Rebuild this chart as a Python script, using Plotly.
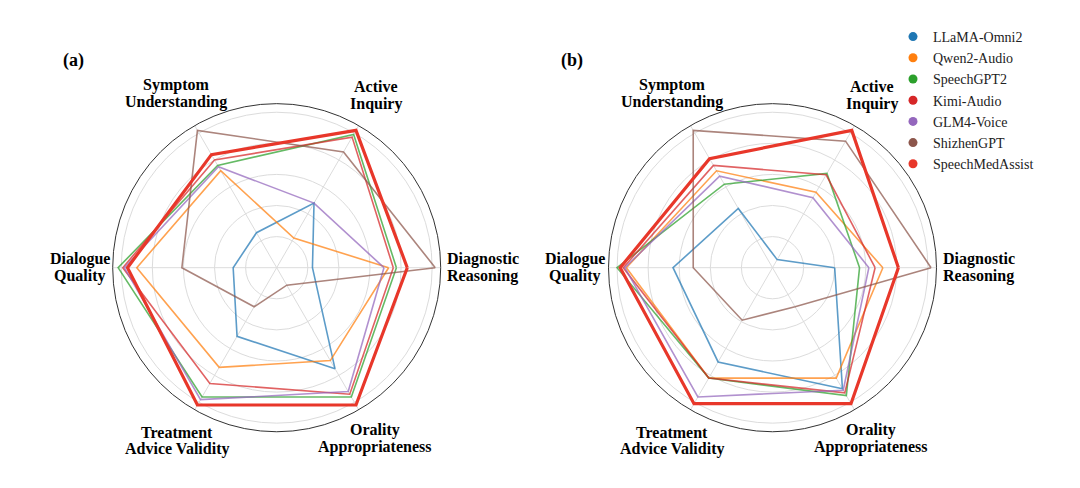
import numpy as np
import plotly.graph_objects as go

# axis (dimension) names, each as two text lines
cat_line1 = ["Diagnostic", "Active", "Symptom", "Dialogue", "Treatment", "Orality"]
cat_line2 = ["Reasoning", "Inquiry", "Understanding", "Quality", "Advice Validity", "Appropriateness"]
categories = [a + " " + b for a, b in zip(cat_line1, cat_line2)]

models = ["LLaMA-Omni2", "Qwen2-Audio", "SpeechGPT2", "Kimi-Audio", "GLM4-Voice", "ShizhenGPT", "SpeechMedAssist"]
colors = ["#1f77b4", "#ff7f0e", "#2ca02c", "#d62728", "#9467bd", "#8c564b", "#e8372a"]

# (a) normalized scores per dimension (order = categories)
a_llama = [0.23, 0.48, 0.26, 0.28, 0.51, 0.75]
a_qwen = [0.72, 0.22, 0.72, 0.90, 0.74, 0.69]
a_sgpt = [0.77, 0.99, 0.76, 1.02, 0.96, 0.96]
a_kimi = [0.75, 0.97, 0.80, 0.99, 0.86, 0.94]
a_glm = [0.69, 0.48, 0.75, 0.98, 0.98, 0.92]
a_shiz = [1.02, 0.86, 1.02, 0.61, 0.29, 0.13]
a_sma = [0.84, 1.02, 0.84, 0.96, 1.02, 1.02]

# (b) normalized scores per dimension
b_llama = [0.40, 0.06, 0.44, 0.64, 0.70, 0.90]
b_qwen = [0.71, 0.56, 0.72, 0.94, 0.82, 0.82]
b_sgpt = [0.56, 0.70, 0.62, 1.00, 0.82, 0.95]
b_kimi = [0.66, 0.69, 0.76, 0.96, 0.82, 0.93]
b_glm = [0.62, 0.52, 0.68, 0.95, 0.96, 0.91]
b_shiz = [1.02, 0.94, 1.02, 0.51, 0.39, 0.29]
b_sma = [0.81, 1.02, 0.81, 0.98, 1.01, 1.01]

data_a = [a_llama, a_qwen, a_sgpt, a_kimi, a_glm, a_shiz, a_sma]
data_b = [b_llama, b_qwen, b_sgpt, b_kimi, b_glm, b_shiz, b_sma]

FONT = "Liberation Serif"
W, H = 1080, 488
OFF = 8  # page body margin in the browser


def px(x):
    return (x - OFF) / W


def py(y):
    return 1 - (y - OFF) / H


fig = go.Figure()


def add_series(data, subplot):
    for name, col, vals in zip(models, colors, data):
        thick = name == "SpeechMedAssist"
        fig.add_trace(go.Scatterpolar(
            r=vals + vals[:1], theta=categories + categories[:1],
            mode="lines", name=name, subplot=subplot, showlegend=False,
            line=dict(color=col, width=3.2 if thick else 1.6),
            opacity=1.0 if thick else 0.72,
        ))


add_series(data_a, "polar")
add_series(data_b, "polar2")

for name, col in zip(models, colors):
    fig.add_trace(go.Scatterpolar(
        r=[None], theta=[categories[0]], mode="markers", name=name, subplot="polar2",
        marker=dict(color=col, size=9), showlegend=True,
    ))

RAD = 164
centers = {"polar": (276.7, 267.7), "polar2": (772.5, 267.7)}


def polar_layout(cx, cy):
    return dict(
        domain=dict(x=[px(cx - RAD), px(cx + RAD)], y=[py(cy + RAD), py(cy - RAD)]),
        bgcolor="white",
        radialaxis=dict(range=[0, 1.055], tickvals=[0.2, 0.4, 0.6, 0.8, 1.0], showticklabels=False,
                        ticks="", showline=False, gridcolor="#dcdcdc", gridwidth=1),
        angularaxis=dict(rotation=0, direction="counterclockwise", categoryorder="array",
                         categoryarray=categories, gridcolor="#dcdcdc", gridwidth=1,
                         linecolor="#333333", linewidth=1, ticks="", showticklabels=False),
    )


annotations = [
    dict(text="<b>(a)</b>", x=px(73), y=py(60)),
    dict(text="<b>(b)</b>", x=px(572), y=py(60)),
]
for a in annotations:
    a.update(xref="paper", yref="paper", showarrow=False, xanchor="center", yanchor="middle",
             font=dict(family=FONT, size=18, color="black"))

# axis labels around each radar
label_dist = [206, 199, 201, 197, 200, 197]
line_gap = 16.8
for key, (cx, cy) in centers.items():
    for i, (l1, l2) in enumerate(zip(cat_line1, cat_line2)):
        ang = np.deg2rad(60 * i)
        lx = cx + label_dist[i] * np.cos(ang)
        ly = cy - label_dist[i] * np.sin(ang)
        for txt, dy in ((l1, -line_gap / 2), (l2, line_gap / 2)):
            annotations.append(dict(
                text="<b>" + txt + "</b>", x=px(lx), y=py(ly + dy), xref="paper", yref="paper",
                showarrow=False, xanchor="center", yanchor="middle",
                font=dict(family=FONT, size=16, color="black")))

fig.update_layout(
    width=W, height=H,
    margin=dict(l=0, r=0, t=0, b=0),
    paper_bgcolor="white", plot_bgcolor="white",
    polar=polar_layout(*centers["polar"]),
    polar2=polar_layout(*centers["polar2"]),
    font=dict(family=FONT, color="black"),
    legend=dict(x=px(893), y=py(21), xanchor="left", yanchor="top",
                font=dict(family=FONT, size=14, color="#222222"),
                tracegroupgap=0, bgcolor="rgba(0,0,0,0)"),
    annotations=annotations,
)

fig.write_html("out.html")
